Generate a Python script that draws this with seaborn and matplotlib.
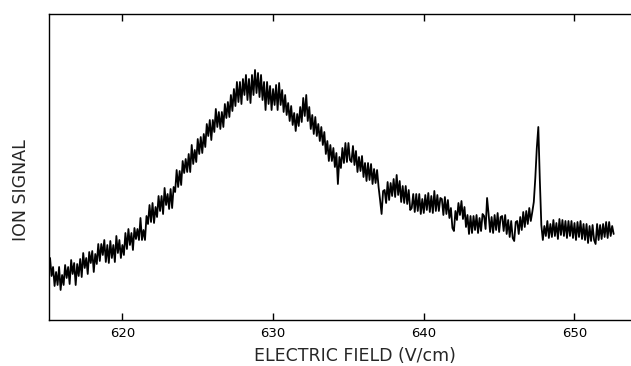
import numpy as np
import pandas as pd
import matplotlib
matplotlib.use("Agg")
import matplotlib.pyplot as plt
import seaborn as sns

# Electric field grid (V/cm), 0.1 V/cm steps
field = [round(615.2 + 0.1 * i, 1) for i in range(375)]

# Ion signal (arbitrary units)
signal = [
    62, 44, 53, 34, 48, 35, 53, 30, 45, 35, 55, 42, 53, 36, 60, 46, 57, 35, 56, 44,
    61, 43, 67, 52, 62, 46, 68, 57, 69, 48, 66, 56, 76, 59, 76, 65, 80, 58, 75, 57,
    79, 62, 75, 58, 84, 67, 80, 62, 75, 65, 87, 71, 91, 75, 87, 70, 92, 81, 91, 80,
    102, 80, 90, 80, 104, 96, 115, 98, 117, 97, 113, 103, 124, 109, 124, 106, 132, 115, 126, 111,
    131, 112, 133, 128, 150, 133, 149, 135, 159, 147, 161, 148, 166, 148, 175, 156, 170, 158, 181, 166,
    183, 167, 186, 173, 196, 184, 200, 180, 200, 188, 211, 193, 208, 191, 208, 193, 216, 202, 218, 203,
    225, 209, 231, 214, 238, 218, 238, 216, 241, 225, 245, 220, 241, 217, 245, 225, 250, 227, 247, 223,
    245, 220, 238, 210, 238, 216, 234, 210, 231, 215, 235, 210, 237, 215, 230, 208, 225, 205, 217, 199,
    214, 195, 207, 189, 206, 194, 213, 198, 222, 204, 225, 199, 213, 191, 205, 186, 203, 184, 196, 179,
    193, 175, 188, 166, 179, 159, 175, 159, 172, 153, 167, 136, 163, 152, 172, 157, 177, 158, 177, 160,
    158, 174, 155, 169, 148, 163, 149, 164, 143, 157, 139, 157, 140, 156, 136, 151, 137, 150, 133, 120,
    106, 129, 130, 117, 138, 120, 137, 124, 141, 123, 145, 125, 139, 118, 134, 117, 134, 116, 130, 110,
    112, 126, 108, 126, 109, 126, 106, 121, 107, 125, 110, 127, 108, 124, 107, 129, 109, 125, 109, 122,
    121, 105, 123, 106, 120, 102, 112, 92, 89, 109, 100, 117, 105, 119, 101, 113, 93, 105, 86, 104,
    87, 104, 90, 105, 87, 102, 89, 106, 104, 91, 122, 106, 88, 103, 87, 105, 90, 107, 88, 103,
    104, 89, 105, 86, 100, 83, 99, 82, 79, 98, 99, 86, 103, 90, 108, 93, 109, 96, 112, 99,
    108, 118, 142, 172, 193, 140, 95, 80, 94, 84, 99, 82, 96, 83, 100, 84, 97, 81, 101, 85,
    100, 84, 99, 82, 99, 84, 99, 82, 97, 80, 98, 83, 99, 81, 96, 80, 96, 77, 94, 79,
    95, 80, 76, 96, 80, 95, 81, 96, 83, 98, 82, 98, 84, 94, 86,
]

x_ticks = [620, 630, 640, 650]
x_label = "ELECTRIC FIELD (V/cm)"
y_label = "ION SIGNAL"

df = pd.DataFrame({"field": field, "signal": signal})

sns.set_style("ticks")
plt.rcParams["font.family"] = ["DejaVu Sans"]

W, H = 631, 366
fig = plt.figure(figsize=(W / 100, H / 100), dpi=100)
ax = fig.add_axes([49.3 / W, (H - 320) / H, 1 - 49.3 / W, (320 - 13.5) / H])

sns.lineplot(data=df, x="field", y="signal", color="black", linewidth=1.3, ax=ax)

ax.set_xlim(615.15, 653.75)
ax.set_ylim(0, 306.5)
ax.set_xticks(x_ticks)
ax.set_xticklabels([str(t) for t in x_ticks], fontsize=9.5)
ax.set_yticks([])
ax.set_xlabel("")
ax.set_ylabel("")
ax.tick_params(axis="x", direction="in", length=5, width=1.0, top=True,
               bottom=True, pad=5, colors="black")
for side in ["left", "top", "bottom"]:
    ax.spines[side].set_linewidth(1.0)
    ax.spines[side].set_color("black")
ax.spines["right"].set_visible(False)

fig.text(355 / W, (H - 356) / H, x_label, ha="center", va="center", fontsize=12.5)
fig.text(21 / W, (H - 190) / H, y_label, ha="center", va="center",
         rotation=90, fontsize=12.5)

fig.savefig("out.png", dpi=100)
